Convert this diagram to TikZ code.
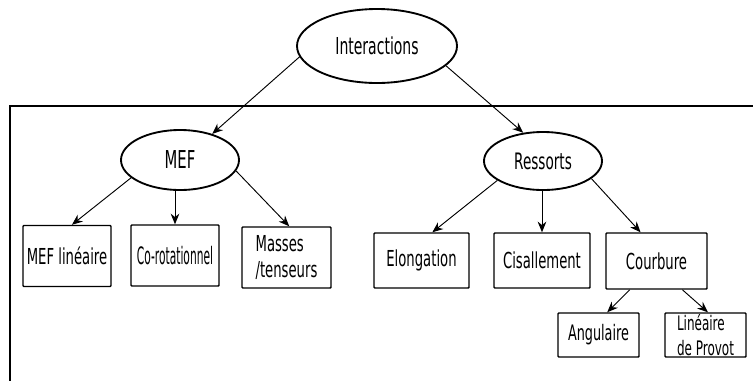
\documentclass[tikz,border=0pt]{standalone}
\usepackage{fontspec}
\setmainfont[FakeStretch=0.6]{DejaVu Sans}
\usepackage{tikz}
\usetikzlibrary{arrows.meta,shapes.geometric}

\begin{document}
\begin{tikzpicture}[x=0.75pt,y=-0.75pt,
  oval/.style={draw,ellipse,line width=1.4pt,inner sep=0pt},
  box/.style={draw,rectangle,line width=1.1pt,rounded corners=0.6pt,inner sep=1pt},
  fl/.style={-{Stealth[length=8pt,width=6.5pt]},line width=0.7pt}]
\useasboundingbox (0,0) rectangle (753,380);
\draw[line width=1.5pt] (10,381) -- (10,106) -- (754,106);
\node[oval,minimum width=120pt,minimum height=55.5pt,font=\fontsize{17.5}{20}\selectfont] (inter) at (377,46) {Interactions};
\node[oval,minimum width=88.5pt,minimum height=45pt,font=\fontsize{18.5}{22}\selectfont] (mef) at (180,160) {MEF};
\node[oval,minimum width=88.5pt,minimum height=43.5pt,font=\fontsize{17}{20}\selectfont] (res) at (543,161) {Ressorts};
\node[box,minimum width=66pt,minimum height=45.75pt,font=\fontsize{16.5}{20}\selectfont] (meflin) at (67,256) {MEF linéaire};
\node[box,minimum width=66pt,minimum height=45.75pt,font=\fontsize{18}{20}\selectfont] (corot) at (175,255.5) {\scalebox{0.74}[1]{Co-rotationnel}};
\node[box,minimum width=66.75pt,minimum height=45.75pt,font=\fontsize{16.5}{20}\selectfont,align=left] (mass) at (286.5,257.5) {Masses\\/tenseurs};
\node[box,minimum width=71.25pt,minimum height=41.25pt,font=\fontsize{16.5}{20}\selectfont] (elong) at (421.5,260.5) {Elongation};
\node[box,minimum width=72pt,minimum height=41.25pt,font=\fontsize{16.5}{20}\selectfont] (cis) at (542,260.5) {Cisallement};
\node[box,minimum width=75.75pt,minimum height=42pt,font=\fontsize{16.5}{20}\selectfont] (courb) at (656.5,261) {Courbure};
\node[box,minimum width=60.75pt,minimum height=33pt,font=\fontsize{16}{20}\selectfont] (ang) at (598.5,335) {Angulaire};
\node[box,minimum width=60.75pt,minimum height=33pt,font=\fontsize{15}{18.75}\selectfont,align=left,inner sep=0pt] (lin) at (705.5,335) {Linéaire\\de Provot};
\draw[fl] (inter.188) -- (mef.39);
\draw[fl] (inter.-16) -- (res.125);
\draw[fl] (mef.200) -- (meflin.81);
\draw[fl] (corot.north |- mef.south) -- (corot.north);
\draw[fl] (mef.-11) -- (mass.85);
\draw[fl] (res.203) -- (elong.69);
\draw[fl] (cis.north |- res.south) -- (cis.north);
\draw[fl] (res.-20) -- (courb.119);
\draw[fl] (courb.227) -- (ang.69);
\draw[fl] (courb.-48) -- (lin.84);
\end{tikzpicture}
\end{document}
